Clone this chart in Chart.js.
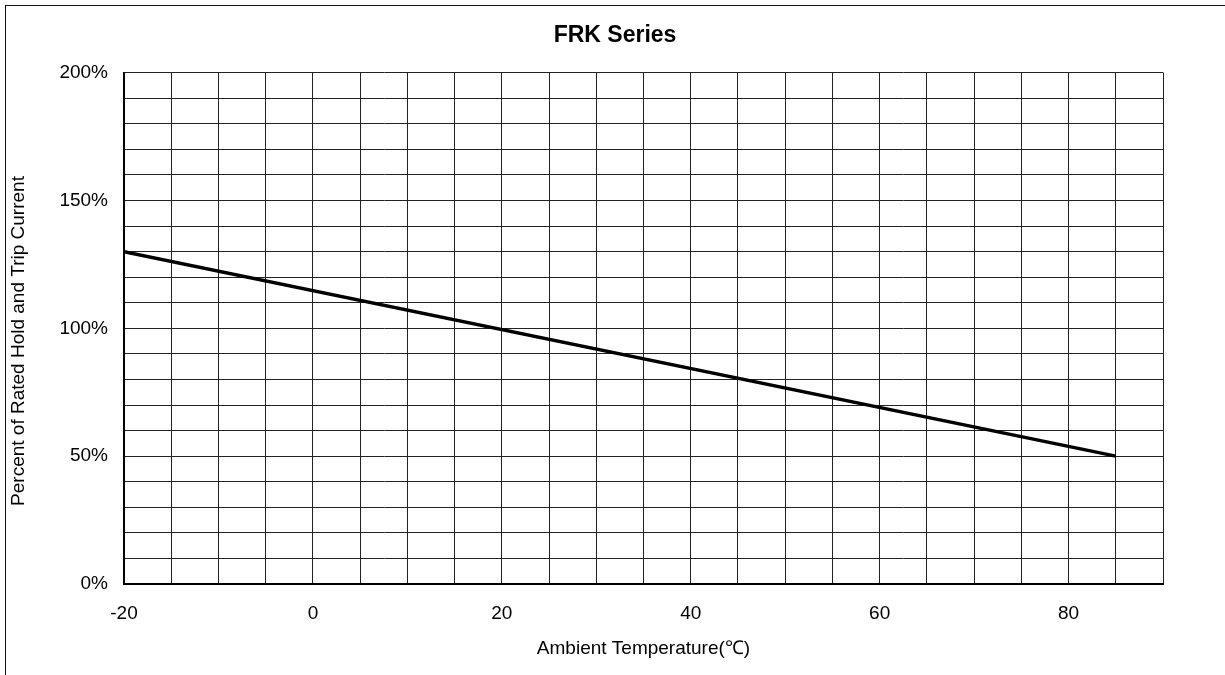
<!DOCTYPE html>
<html>
<head>
<meta charset="utf-8">
<script src="https://cdn.jsdelivr.net/npm/chart.js@4"></script>
<style>
  body { margin: 0; background: #fff; }
  #frame { position: absolute; left: 5px; top: 5px; width: 1400px; height: 900px;
           border-left: 1px solid #111; border-top: 1px solid #111; }
  #wrap { position: absolute; left: 0; top: 0; width: 1225px; height: 675px; }
</style>
</head>
<body>
<div id="frame"></div>
<div id="wrap"><canvas id="frkChart"></canvas></div>
<script>
// chart data
var temps = [-20, 85]          // ambient temperature, deg C
var percents = [130, 50]       // percent of rated hold and trip current
var xLabels = [-20, 0, 20, 40, 60, 80]
var yLabels = [0, 50, 100, 150, 200]
var yTitle = 'Percent of Rated Hold and Trip Current'

// title and y title are centred on the whole frame, not the plot area
var framePlugin = {
    id: 'frame',
    afterLayout: function (chart) {
        chart.titleBlock.left = 5
        chart.titleBlock.right = 1225
    },
    afterDraw: function (chart) {
        var c = chart.ctx
        c.save()
        c.translate(19, 341)
        c.rotate(-Math.PI / 2)
        c.fillStyle = '#000'
        c.font = '19px "Liberation Sans"'
        c.textAlign = 'center'
        c.textBaseline = 'middle'
        c.fillText(yTitle, 0, 0)
        c.restore()
    }
}

var ctx = document.getElementById('frkChart').getContext('2d')
var chart = new Chart(ctx, {
    type: 'scatter',
    data: {
        datasets: [{
            label: 'FRK',
            data: temps.map(function (t, i) { return {x: t, y: percents[i]} }),
            showLine: true,
            borderColor: '#000',
            borderWidth: 3.5,
            pointRadius: 0
        }]
    },
    options: {
        responsive: true,
        maintainAspectRatio: false,
        animation: false,
        layout: {padding: {left: 0, right: 62, top: 0, bottom: 0}},
        plugins: {
            legend: {display: false},
            tooltip: {enabled: false},
            title: {
                display: true,
                text: 'FRK Series',
                color: '#000',
                font: {family: 'Liberation Sans', size: 23, weight: 'bold'},
                padding: {top: 22, bottom: 23}
            }
        },
        scales: {
            x: {
                type: 'linear',
                min: -20,
                max: 90,
                afterFit: function (s) { s.height = 91 },
                ticks: {
                    stepSize: 5,
                    autoSkip: false,
                    maxRotation: 0,
                    padding: 18,
                    color: '#000',
                    font: {family: 'Liberation Sans', size: 19},
                    callback: function (v) { return xLabels.indexOf(v) >= 0 ? String(v) : '' }
                },
                grid: {color: '#222', lineWidth: 1, drawTicks: false},
                border: {color: '#000', width: 2},
                title: {
                    display: true,
                    text: 'Ambient Temperature(\u2103)',
                    color: '#000',
                    font: {family: 'Liberation Sans', size: 19},
                    padding: {top: 15, bottom: 15}
                }
            },
            y: {
                min: 0,
                max: 200,
                afterFit: function (s) { s.width = 124 },
                ticks: {
                    stepSize: 10,
                    autoSkip: false,
                    padding: 16,
                    color: '#000',
                    font: {family: 'Liberation Sans', size: 19},
                    callback: function (v) { return yLabels.indexOf(v) >= 0 ? v + '%' : '' }
                },
                grid: {color: '#222', lineWidth: 1, drawTicks: false},
                border: {color: '#000', width: 2}
            }
        }
    },
    plugins: [framePlugin]
});
</script>
</body>
</html>
